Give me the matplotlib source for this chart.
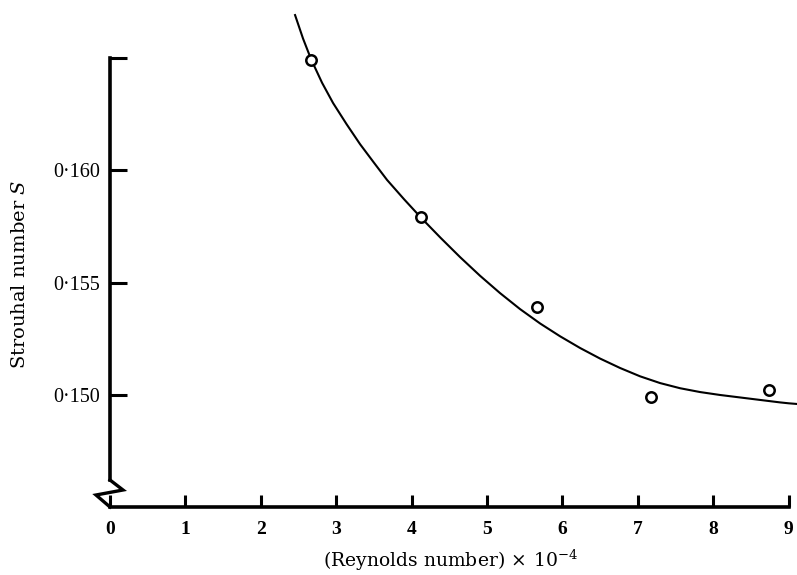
import matplotlib
matplotlib.use("Agg")
import matplotlib.pyplot as plt
import matplotlib.transforms as mtransforms
from matplotlib.lines import Line2D

plt.rcParams['font.family'] = ['Liberation Serif', 'DejaVu Serif']
plt.rcParams['mathtext.fontset'] = 'dejavuserif'

# measured points
re_pts = [2.67, 4.12, 5.66, 7.17, 8.74]
s_pts = [0.1649, 0.1579, 0.1539, 0.1499, 0.1502]

# traced fitted curve
curve_x = [2.454, 2.560, 2.666, 2.812, 2.958, 3.137, 3.316, 3.495, 3.674,
           3.900, 4.125, 4.383, 4.642, 4.907, 5.172, 5.437, 5.703, 5.968,
           6.233, 6.498, 6.764, 7.029, 7.294, 7.560, 7.825, 8.090, 8.355,
           8.620, 8.886, 9.000, 9.111]
curve_y = [0.16689, 0.165843, 0.16493, 0.16388, 0.16298, 0.16204, 0.16115,
           0.16035, 0.15956, 0.15870, 0.15788, 0.15699, 0.15613, 0.15530,
           0.15453, 0.15382, 0.15318, 0.15261, 0.15209, 0.15162, 0.15120,
           0.15083, 0.15053, 0.15030, 0.15013, 0.15000, 0.14989, 0.14978,
           0.14967, 0.14963, 0.14960]

xticks = [0, 1, 2, 3, 4, 5, 6, 7, 8, 9]
yticks = [0.150, 0.155, 0.160, 0.165]
ytick_labels = ['0·150', '0·155', '0·160', '']

W, H = 797, 575
fig = plt.figure(figsize=(W / 100, H / 100), dpi=100)
ax = fig.add_axes([110 / W, (H - 507) / H, (797 - 110) / W, 507 / H])
ax.set_xlim(0, 9.11)
ax.set_ylim(0.14502, 0.16756)

ax.plot(curve_x, curve_y, color='black', lw=1.5, clip_on=False, zorder=2,
        solid_joinstyle='round')
ax.plot(re_pts, s_pts, 'o', ms=7.5, mfc='white', mec='black', mew=1.8,
        zorder=3, clip_on=False)

for s in ['top', 'right']:
    ax.spines[s].set_visible(False)
ax.spines['left'].set_linewidth(2.6)
ax.spines['bottom'].set_linewidth(2.6)
ax.spines['bottom'].set_bounds(0, 9)
ax.spines['left'].set_bounds(0.1462, 0.165)

ax.set_xticks(xticks)
ax.set_xticklabels([str(v) for v in xticks], fontsize=14, fontweight='bold')
ax.set_yticks(yticks)
ax.set_yticklabels(ytick_labels, fontsize=14.5)
ax.tick_params(axis='x', direction='in', length=9, width=2.2, pad=10)
ax.tick_params(axis='y', direction='in', length=12, width=2.2, pad=7)

# axis break zigzag (decoration, offset from axes corner)
zig_x = [0, 13, -14, 0]
zig_y = [27, 17, 12, 0]
zz = Line2D([v / 100 for v in zig_x], [v / 100 for v in zig_y],
            transform=fig.dpi_scale_trans + mtransforms.ScaledTranslation(0, 0, ax.transAxes),
            color='black', lw=2.4, clip_on=False, solid_joinstyle='miter')
fig.add_artist(zz)

fig.text(450 / W, 1 - 560 / H, r'(Reynolds number)$\,\times\,10^{-4}$',
         ha='center', va='center', fontsize=13.5, family='DejaVu Serif')
fig.text(20 / W, 1 - 274 / H, r'Strouhal number $S$', rotation=90,
         ha='center', va='center', fontsize=14, family='DejaVu Serif')

fig.savefig('out.png', dpi=100)
